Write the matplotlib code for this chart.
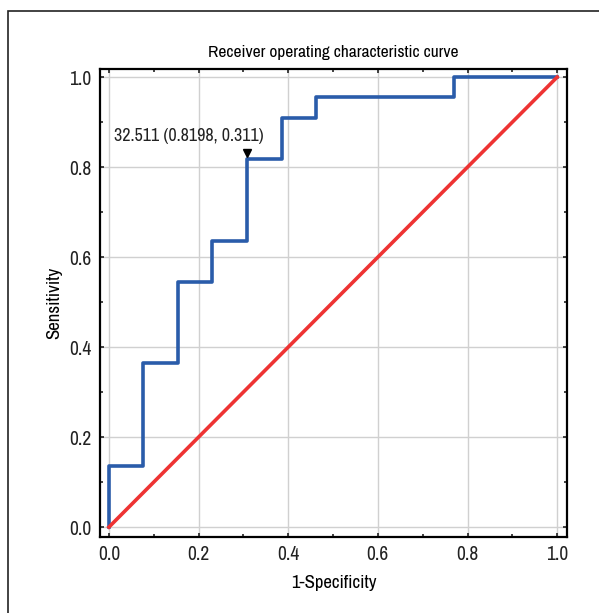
import matplotlib
matplotlib.use('Agg')
import matplotlib.pyplot as plt
import matplotlib.transforms as mtransforms
from matplotlib import font_manager
from matplotlib.patches import Rectangle
from matplotlib.ticker import MultipleLocator

# 找一个窄体字体
names = sorted(set(f.name for f in font_manager.fontManager.ttflist))
narrow = [n for n in names if 'Condensed' in n or 'Narrow' in n]
plt.rcParams['font.family'] = narrow[:1] + ['DejaVu Sans']
plt.rcParams['font.stretch'] = 'condensed'

# ROC 曲线的阶梯点
fpr = [0.0, 0.0, 0.077, 0.077, 0.154, 0.154, 0.231, 0.231, 0.308, 0.308,
       0.385, 0.385, 0.462, 0.462, 0.769, 0.769, 1.0]
tpr = [0.0, 0.136, 0.136, 0.364, 0.364, 0.545, 0.545, 0.636, 0.636, 0.818,
       0.818, 0.909, 0.909, 0.955, 0.955, 1.0, 1.0]
diag = [0.0, 1.0]
cut_point = (0.308, 0.818)
cut_label = '32.511 (0.8198, 0.311)'

fig = plt.figure(figsize=(5.99, 6.13), dpi=100)
# 外框
fig.patches.append(Rectangle((8 / 599, -0.1), 1.2, 1 - 11 / 613 + 0.1,
                             transform=fig.transFigure, fill=False,
                             edgecolor='#222222', linewidth=1.2))
ax = fig.add_axes([0.1669, 0.124, 0.7797, 0.7634])

ax.plot(fpr, tpr, color='#2a5caa', linewidth=2.6, zorder=3)
ax.plot(diag, diag, color='#ee3333', linewidth=2.6, zorder=3)
up = mtransforms.offset_copy(ax.transData, fig=fig, x=0, y=4, units='points')
ax.plot(*cut_point, marker='v', color='black', markersize=6, zorder=4,
        transform=up)
ax.annotate(cut_label, xy=cut_point, xytext=(-96, 13), textcoords='offset points',
            fontsize=13, color='#222222')

ax.set_xlim(-0.02, 1.022)
ax.set_ylim(-0.022, 1.018)
ax.xaxis.set_major_locator(MultipleLocator(0.2))
ax.yaxis.set_major_locator(MultipleLocator(0.2))
ax.xaxis.set_minor_locator(MultipleLocator(0.1))
ax.yaxis.set_minor_locator(MultipleLocator(0.1))
ax.tick_params(which='both', direction='in', length=3, width=1.2,
               top=True, right=True, labelsize=14, colors='#222222', pad=6)
ax.tick_params(which='minor', length=2)
ax.grid(True, color='#d0d0d0', linewidth=1)
for s in ax.spines.values():
    s.set_linewidth(1.6)
    s.set_color('black')

ax.set_title('Receiver operating characteristic curve', fontsize=12.5, pad=9)
ax.set_xlabel('1-Specificity', fontsize=13.5, labelpad=8)
ax.set_ylabel('Sensitivity', fontsize=13.5, labelpad=5)

fig.savefig('out.png', dpi=100)
